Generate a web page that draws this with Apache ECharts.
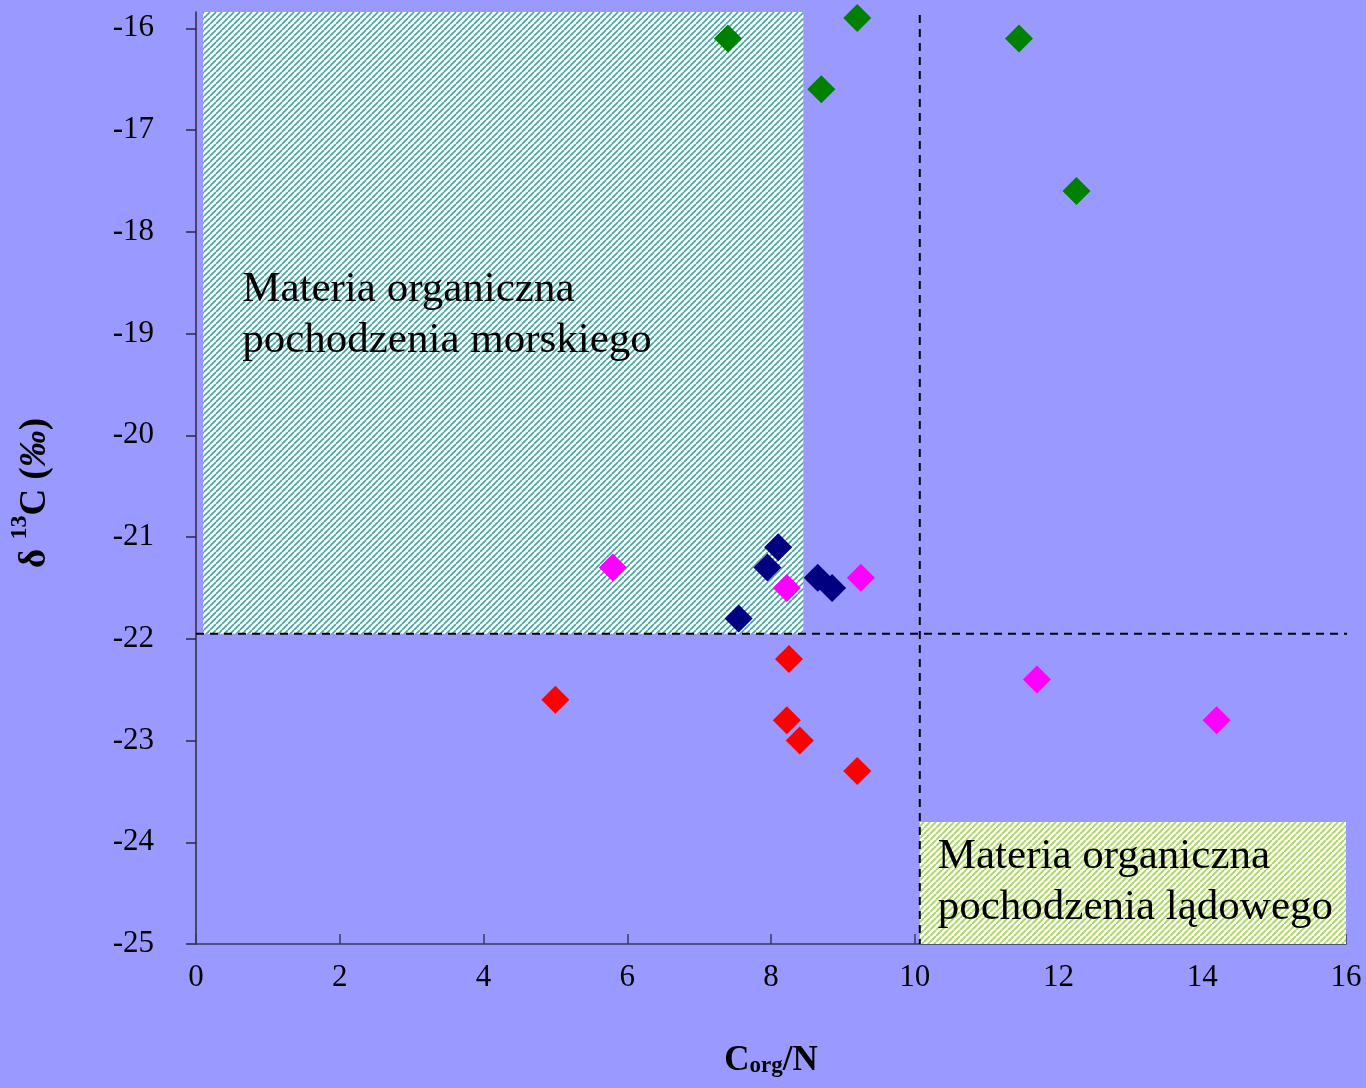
<!DOCTYPE html>
<html>
<head>
<meta charset="utf-8">
<title>δ13C vs Corg/N</title>
<script src="https://cdn.jsdelivr.net/npm/echarts@6/dist/echarts.min.js"></script>
<style>
  html, body { margin: 0; padding: 0; background: #9999ff; }
  #chart { width: 1366px; height: 1088px; }
</style>
</head>
<body>
<div id="chart"></div>
<script>
// Axis ticks
const xTicks = [0, 2, 4, 6, 8, 10, 12, 14, 16];
const yTicks = [-25, -24, -23, -22, -21, -20, -19, -18, -17, -16];

// Sample groups: [Corg/N, δ13C]
const greenPts   = [[7.4, -16.1], [9.2, -15.9], [8.7, -16.6], [11.45, -16.1], [12.25, -17.6]];
const navyPts    = [[8.1, -21.1], [7.95, -21.3], [7.55, -21.8], [8.65, -21.4], [8.85, -21.5]];
const magentaPts = [[5.8, -21.3], [8.22, -21.5], [9.25, -21.4], [11.7, -22.4], [14.2, -22.8]];
const redPts     = [[5.0, -22.6], [8.25, -22.2], [8.22, -22.8], [8.4, -23.0], [9.2, -23.3]];

// Source fields (corners in data units)
const marineBox      = [[0.1, -15.84], [8.45, -21.95]];
const terrestrialBox = [[10.07, -23.8], [16, -25]];
const marineText      = 'Materia organiczna\npochodzenia morskiego';
const terrestrialText = 'Materia organiczna\npochodzenia lądowego';

// Threshold lines
const cnLine  = [[10.07, -15.87], [10.07, -25]];
const d13Line = [[0, -21.95], [16.2, -21.95]];

const SERIF = '"Liberation Serif", "Times New Roman", serif';

// Diagonal "/" hatching tile
function stripes(color, size, width) {
  const c = document.createElement('canvas');
  c.width = c.height = size;
  const g = c.getContext('2d');
  g.fillStyle = '#ffffff';
  g.fillRect(0, 0, size, size);
  g.strokeStyle = color;
  g.lineWidth = width;
  g.beginPath();
  for (let k = -1; k <= 1; k++) {
    g.moveTo(k * size, size);
    g.lineTo(k * size + size, 0);
  }
  g.stroke();
  return c;
}

const chart = echarts.init(document.getElementById('chart'), null, { renderer: 'canvas' });

const diamond = (data, color) => ({
  type: 'scatter',
  data: data,
  symbol: 'diamond',
  symbolSize: [28, 28],
  itemStyle: { color: color, opacity: 1 },
  clip: false,
  z: 4,
  silent: true
});

const dashed = (data) => ({
  type: 'line',
  data: data,
  symbol: 'none',
  clip: false,
  silent: true,
  z: 3,
  lineStyle: { color: '#000', width: 2, type: [8, 6] }
});

const areaLabel = (text, pos) => ({
  show: true, position: pos, formatter: text,
  fontFamily: SERIF, fontSize: 43, lineHeight: 51, color: '#000'
});

chart.setOption({
  backgroundColor: '#9999ff',
  animation: false,
  grid: { left: 196, right: 20, top: 12, bottom: 144 },
  xAxis: {
    type: 'value',
    min: 0, max: 16, interval: 2,
    splitLine: { show: false },
    axisLine: { show: true, lineStyle: { color: '#3a3a5a', width: 1.5 } },
    axisTick: { show: true, inside: true, length: 10, lineStyle: { color: '#3a3a5a', width: 1.5 }, customValues: xTicks },
    axisLabel: { color: '#000', fontFamily: SERIF, fontSize: 31, margin: 18, customValues: xTicks },
    name: '{m|C}{s|org}{m|/N}',
    nameLocation: 'middle',
    nameGap: 86,
    nameTextStyle: {
      rich: {
        m: { fontFamily: SERIF, fontWeight: 'bold', fontSize: 35, lineHeight: 48, color: '#000', verticalAlign: 'bottom' },
        s: { fontFamily: SERIF, fontWeight: 'bold', fontSize: 23, lineHeight: 23, color: '#000', verticalAlign: 'bottom' }
      }
    }
  },
  yAxis: {
    type: 'value',
    min: -25, max: -15.84, interval: 1,
    splitLine: { show: false },
    axisLine: { show: true, onZero: false, lineStyle: { color: '#2a2a3a', width: 1.5 } },
    axisTick: { show: true, inside: false, length: 10, lineStyle: { color: '#2a2a3a', width: 1.5 }, customValues: yTicks },
    axisLabel: { color: '#000', fontFamily: SERIF, fontSize: 31, margin: 42, customValues: yTicks },
    name: '{m|δ }{u|13}{m|C (}{i|‰}{m|)}',
    nameLocation: 'middle',
    nameRotate: 90,
    nameGap: 142,
    nameTextStyle: {
      padding: [0, 30, 0, 0],
      rich: {
        m: { fontFamily: SERIF, fontWeight: 'bold', fontSize: 37, lineHeight: 46, color: '#000', verticalAlign: 'bottom' },
        i: { fontFamily: SERIF, fontWeight: 'bold', fontStyle: 'italic', fontSize: 37, lineHeight: 46, color: '#000', verticalAlign: 'bottom' },
        u: { fontFamily: SERIF, fontWeight: 'bold', fontSize: 24, lineHeight: 24, color: '#000', verticalAlign: 'top' }
      }
    }
  },
  series: [
    {
      // Source-field boxes
      type: 'line',
      data: [],
      silent: true,
      z: 1,
      markArea: {
        silent: true,
        data: [
          [
            {
              coord: marineBox[0],
              itemStyle: { color: { image: stripes('#45a5a0', 6, 1.6), repeat: 'repeat' }, opacity: 1 },
              label: areaLabel(marineText, [39, 252])
            },
            { coord: marineBox[1] }
          ],
          [
            {
              coord: terrestrialBox[0],
              itemStyle: { color: { image: stripes('#a6d65a', 6, 1.8), repeat: 'repeat' }, opacity: 1 },
              label: areaLabel(terrestrialText, [18, 9])
            },
            { coord: terrestrialBox[1] }
          ]
        ]
      }
    },
    dashed(cnLine),
    dashed(d13Line),
    diamond(greenPts, '#008000'),
    diamond(navyPts, '#000080'),
    diamond(magentaPts, '#ff00ff'),
    diamond(redPts, '#ff0000')
  ]
});
</script>
</body>
</html>
